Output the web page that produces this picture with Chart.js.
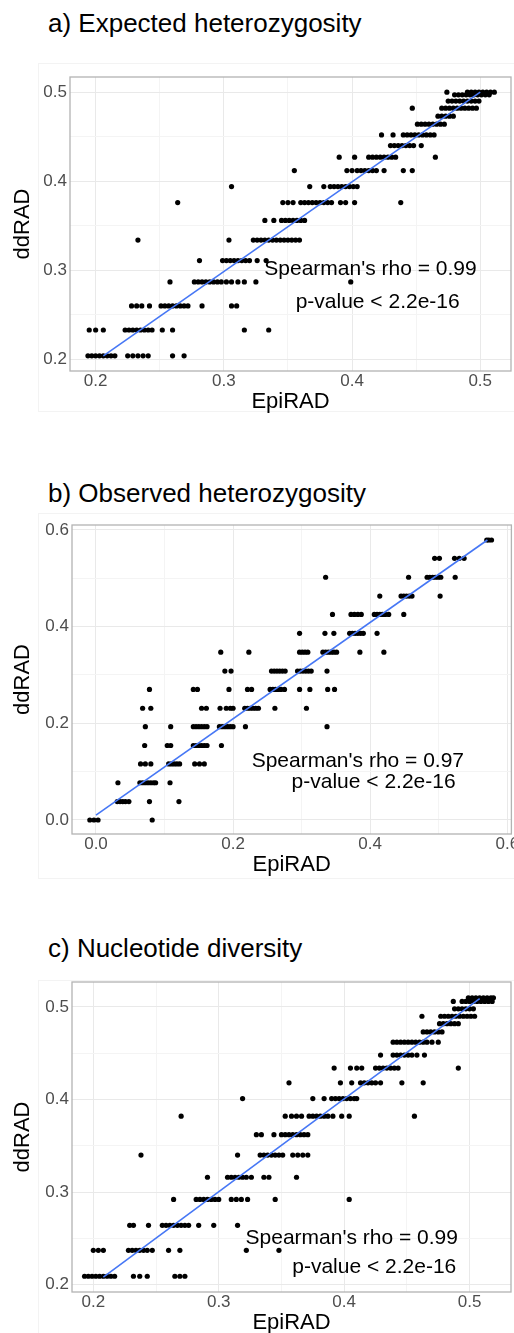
<!DOCTYPE html>
<html>
<head>
<meta charset="utf-8">
<script src="https://cdn.jsdelivr.net/npm/chart.js@4"></script>
<style>
  html, body { margin: 0; padding: 0; background: #fff; overflow: hidden; }
  body { width: 514px; height: 1333px; position: relative; font-family: "Liberation Sans", Arial, sans-serif; }
  .title { position: absolute; left: 48px; font-size: 26px; line-height: 26px; color: #000; white-space: nowrap; }
  .frame { position: absolute; left: 38px; width: 480px; border: 1px solid #f3f3f3; }
  canvas { position: absolute; left: 0; }
</style>
</head>
<body>
<div class="frame" style="top:63px;height:347px"></div>
<div class="frame" style="top:513px;height:364px"></div>
<div class="frame" style="top:980px;height:360px"></div>

<div class="title" style="top:10px">a) Expected heterozygosity</div>
<canvas id="heChart" width="514" height="348" style="top:67px"></canvas>

<div class="title" style="top:480px">b) Observed heterozygosity</div>
<canvas id="hoChart" width="514" height="363" style="top:515px"></canvas>

<div class="title" style="top:935px">c) Nucleotide diversity</div>
<canvas id="piChart" width="514" height="364" style="top:972px"></canvas>

<script>
// a) expected heterozygosity: ddRAD value of each row of points, and the EpiRAD values on that row
const heRows = [0.204, 0.233, 0.26, 0.287, 0.311, 0.334, 0.356, 0.376, 0.394, 0.412, 0.427, 0.44, 0.452, 0.464, 0.473, 0.482, 0.49, 0.497, 0.5];
const heEpi = [
    [0.194, 0.197, 0.2, 0.203, 0.206, 0.209, 0.212, 0.215, 0.225, 0.229, 0.233, 0.237, 0.241, 0.26, 0.269],
    [0.195, 0.2, 0.206, 0.223, 0.226, 0.229, 0.232, 0.235, 0.238, 0.241, 0.244, 0.252, 0.26, 0.316, 0.335],
    [0.228, 0.232, 0.236, 0.242, 0.251, 0.254, 0.257, 0.26, 0.263, 0.266, 0.269, 0.272, 0.283, 0.306, 0.31],
    [0.258, 0.277, 0.28, 0.283, 0.286, 0.289, 0.292, 0.295, 0.298, 0.302, 0.306, 0.311, 0.316, 0.325, 0.399],
    [0.281, 0.299, 0.302, 0.305, 0.308, 0.311, 0.314, 0.317, 0.32, 0.326, 0.333],
    [0.233, 0.304, 0.323, 0.326, 0.329, 0.332, 0.335, 0.338, 0.341, 0.344, 0.347, 0.35, 0.353, 0.356, 0.359],
    [0.332, 0.339, 0.345, 0.348, 0.351, 0.354, 0.357, 0.36, 0.363],
    [0.264, 0.346, 0.35, 0.354, 0.36, 0.363, 0.366, 0.369, 0.372, 0.375, 0.378, 0.381, 0.384, 0.391, 0.395, 0.402, 0.438],
    [0.306, 0.367, 0.378, 0.383, 0.386, 0.389, 0.392, 0.395, 0.398, 0.401, 0.404],
    [0.355, 0.396, 0.4, 0.404, 0.407, 0.41, 0.413, 0.416, 0.419, 0.425, 0.44, 0.447],
    [0.39, 0.402, 0.413, 0.416, 0.419, 0.422, 0.425, 0.428, 0.431, 0.434, 0.465],
    [0.43, 0.433, 0.436, 0.439, 0.442, 0.445, 0.448, 0.454],
    [0.423, 0.432, 0.44, 0.443, 0.446, 0.449, 0.452, 0.455, 0.458, 0.461, 0.464],
    [0.451, 0.454, 0.457, 0.46, 0.463, 0.466, 0.469, 0.472],
    [0.467, 0.47, 0.473, 0.476, 0.479],
    [0.447, 0.47, 0.473, 0.476, 0.479, 0.482, 0.485, 0.488, 0.491, 0.494, 0.497],
    [0.475, 0.478, 0.481, 0.484, 0.487, 0.49, 0.493, 0.496, 0.499],
    [0.48, 0.483, 0.486, 0.489, 0.492, 0.495, 0.498, 0.501, 0.504, 0.507],
    [0.474, 0.49, 0.493, 0.496, 0.499, 0.502, 0.505, 0.508, 0.511]
];
const heFitX = [0.206, 0.5];
const heFitY = [0.204, 0.5];
const heTicks = [0.2, 0.3, 0.4, 0.5];

// b) observed heterozygosity
const hoRows = [0.0, 0.038, 0.077, 0.116, 0.154, 0.193, 0.231, 0.27, 0.308, 0.347, 0.386, 0.425, 0.463, 0.502, 0.541, 0.579];
const hoEpi = [
    [-0.009, -0.003, 0.003, 0.082],
    [0.031, 0.035, 0.039, 0.043, 0.048, 0.078, 0.121],
    [0.032, 0.064, 0.068, 0.072, 0.076, 0.08, 0.084, 0.087, 0.108],
    [0.065, 0.072, 0.08, 0.106, 0.11, 0.114, 0.118, 0.122, 0.144, 0.151, 0.158],
    [0.071, 0.104, 0.109, 0.142, 0.146, 0.15, 0.154, 0.158, 0.162, 0.183],
    [0.072, 0.109, 0.142, 0.146, 0.15, 0.154, 0.158, 0.162, 0.18, 0.184, 0.188, 0.192, 0.196, 0.2, 0.218, 0.337],
    [0.068, 0.08, 0.154, 0.161, 0.181, 0.19, 0.196, 0.2, 0.217, 0.221, 0.225, 0.229, 0.233, 0.237, 0.261, 0.307],
    [0.078, 0.142, 0.148, 0.194, 0.221, 0.227, 0.254, 0.258, 0.262, 0.266, 0.27, 0.275, 0.297, 0.312, 0.338, 0.348],
    [0.188, 0.197, 0.256, 0.26, 0.264, 0.268, 0.272, 0.276, 0.294, 0.298, 0.302, 0.306, 0.31, 0.314, 0.337],
    [0.182, 0.223, 0.297, 0.301, 0.305, 0.309, 0.331, 0.335, 0.339, 0.343, 0.347, 0.351, 0.385, 0.42],
    [0.297, 0.334, 0.347, 0.37, 0.374, 0.378, 0.382, 0.386, 0.39, 0.41],
    [0.345, 0.372, 0.377, 0.382, 0.387, 0.406, 0.41, 0.414, 0.418, 0.422, 0.427, 0.449],
    [0.414, 0.445, 0.449, 0.453, 0.457, 0.461, 0.502],
    [0.335, 0.456, 0.483, 0.487, 0.491, 0.495, 0.499, 0.503, 0.524],
    [0.494, 0.501, 0.523, 0.53, 0.537],
    [0.57, 0.573, 0.577]
];
const hoFitX = [0.0, 0.571];
const hoFitY = [0.01, 0.579];
const hoTicks = [0.0, 0.2, 0.4, 0.6];

// c) nucleotide diversity
const piRows = [0.209, 0.237, 0.264, 0.292, 0.316, 0.34, 0.362, 0.382, 0.401, 0.418, 0.434, 0.448, 0.462, 0.473, 0.482, 0.49, 0.498, 0.506, 0.51];
const piEpi = [
    [0.193, 0.196, 0.199, 0.202, 0.205, 0.208, 0.211, 0.214, 0.217, 0.232, 0.237, 0.243, 0.265, 0.269, 0.273],
    [0.2, 0.204, 0.208, 0.228, 0.231, 0.234, 0.237, 0.24, 0.243, 0.247, 0.26, 0.269, 0.322, 0.348],
    [0.229, 0.232, 0.244, 0.255, 0.258, 0.261, 0.264, 0.267, 0.27, 0.273, 0.276, 0.284, 0.296, 0.315],
    [0.264, 0.282, 0.285, 0.288, 0.291, 0.294, 0.297, 0.3, 0.31, 0.314, 0.318, 0.323, 0.345, 0.404],
    [0.291, 0.307, 0.31, 0.313, 0.316, 0.319, 0.322, 0.326, 0.336, 0.34, 0.362],
    [0.238, 0.315, 0.333, 0.336, 0.339, 0.342, 0.345, 0.348, 0.351, 0.359, 0.363, 0.367, 0.371],
    [0.33, 0.334, 0.344, 0.35, 0.353, 0.356, 0.359, 0.362, 0.365, 0.368, 0.371],
    [0.27, 0.353, 0.358, 0.362, 0.366, 0.372, 0.375, 0.378, 0.381, 0.384, 0.387, 0.391, 0.398, 0.404, 0.456],
    [0.319, 0.375, 0.384, 0.39, 0.393, 0.396, 0.399, 0.402, 0.405, 0.408, 0.41],
    [0.356, 0.397, 0.406, 0.413, 0.416, 0.419, 0.422, 0.425, 0.429, 0.446, 0.463],
    [0.392, 0.405, 0.41, 0.414, 0.425, 0.428, 0.431, 0.434, 0.437, 0.44, 0.443, 0.491],
    [0.429, 0.439, 0.442, 0.445, 0.448, 0.451, 0.454, 0.458, 0.464],
    [0.439, 0.442, 0.445, 0.448, 0.451, 0.454, 0.457, 0.46, 0.463, 0.466, 0.47, 0.475],
    [0.463, 0.466, 0.469, 0.472, 0.475, 0.478],
    [0.476, 0.479, 0.482, 0.485, 0.488, 0.491],
    [0.462, 0.477, 0.48, 0.483, 0.486, 0.489, 0.492, 0.495, 0.498, 0.501, 0.504],
    [0.488, 0.491, 0.494, 0.497, 0.5, 0.503],
    [0.487, 0.494, 0.497, 0.5, 0.503, 0.506, 0.509, 0.512, 0.515, 0.518],
    [0.499, 0.502, 0.505, 0.508, 0.511, 0.514, 0.517, 0.519]
];
const piFitX = [0.208, 0.508];
const piFitY = [0.208, 0.509];
const piTicks = [0.2, 0.3, 0.4, 0.5];

const FONT = '"Liberation Sans", Arial, sans-serif';

function toPoints(rows, epi) {
    const pts = [];
    rows.forEach((dd, i) => epi[i].forEach(x => pts.push({ x: x, y: dd })));
    return pts;
}

// major ticks plus the minor grid lines halfway between them
function withMinor(ticks) {
    const out = [];
    ticks.forEach((t, i) => {
        out.push(t);
        if (i < ticks.length - 1) out.push((t + ticks[i + 1]) / 2);
    });
    return out;
}

function isMajor(ticks, v) {
    return ticks.some(t => Math.abs(t - v) < 1e-9);
}

function scaleOpts(range, ticks, title, isX, size) {
    return {
        type: "linear",
        min: range[0],
        max: range[1],
        afterBuildTicks: s => { s.ticks = withMinor(ticks).map(v => ({ value: v })); },
        afterFit: s => {
            if (isX) s.height = size; else s.width = size;
            s.paddingLeft = s.paddingRight = s.paddingTop = s.paddingBottom = 0;
        },
        grid: {
            drawTicks: false,
            color: c => (c.tick && isMajor(ticks, c.tick.value)) ? "#e9e9e9" : "#f4f4f4",
            lineWidth: 1
        },
        border: { display: false },
        ticks: {
            autoSkip: false,
            maxRotation: 0,
            padding: isX ? 2 : 3,
            color: "#4d4d4d",
            font: { family: FONT, size: 17, lineHeight: 1 },
            callback: v => isMajor(ticks, v) ? v.toFixed(1) : ""
        },
        title: {
            display: true,
            text: title,
            color: "#000",
            font: { family: FONT, size: 22, lineHeight: 1 },
            padding: isX ? { top: 0, bottom: 2 } : { top: 11.5, bottom: 0 }
        }
    };
}

const panelPlugin = {
    id: "panel",
    beforeDatasetsDraw(chart) {
        const a = chart.chartArea, ctx = chart.ctx;
        ctx.save();
        ctx.strokeStyle = "#b3b3b3";
        ctx.lineWidth = 1.3;
        ctx.strokeRect(a.left, a.top, a.right - a.left, a.bottom - a.top);
        ctx.restore();
    },
    afterDatasetsDraw(chart, args, opts) {
        const ctx = chart.ctx, sx = chart.scales.x, sy = chart.scales.y;
        ctx.save();
        ctx.fillStyle = "#000";
        ctx.font = "21px " + FONT;
        ctx.textAlign = "center";
        ctx.textBaseline = "middle";
        (opts.notes || []).forEach(n => {
            ctx.fillText(n.text, sx.getPixelForValue(n.x), sy.getPixelForValue(n.y));
        });
        ctx.restore();
    }
};

function makePanel(id, p) {
    const ctx = document.getElementById(id).getContext("2d");
    new Chart(ctx, {
        type: "scatter",
        data: {
            datasets: [
                {
                    data: p.fitX.map((x, i) => ({ x: x, y: p.fitY[i] })),
                    showLine: true,
                    borderColor: "#4677f5",
                    borderWidth: 1.6,
                    pointRadius: 0,
                    pointHoverRadius: 0
                },
                {
                    data: toPoints(p.rows, p.epi),
                    pointRadius: 2.6,
                    pointHoverRadius: 2.6,
                    pointBorderWidth: 0,
                    backgroundColor: "#000",
                    borderColor: "#000"
                }
            ]
        },
        options: {
            responsive: false,
            animation: false,
            events: [],
            layout: { padding: { left: 0, right: p.right, top: 10, bottom: 0 } },
            scales: {
                x: scaleOpts(p.xRange, p.ticks, "EpiRAD", true, 44),
                y: scaleOpts(p.yRange, p.ticks, "ddRAD", false, p.left)
            },
            plugins: {
                legend: { display: false },
                tooltip: { enabled: false },
                panel: { notes: p.notes }
            }
        },
        plugins: [panelPlugin]
    });
}

makePanel("heChart", {
    rows: heRows, epi: heEpi, fitX: heFitX, fitY: heFitY, ticks: heTicks,
    xRange: [0.18, 0.524], yRange: [0.187, 0.517], left: 70, right: 3,
    notes: [
        { text: "Spearman's rho = 0.99", x: 0.4144, y: 0.301 },
        { text: "p-value < 2.2e-16", x: 0.42, y: 0.264 }
    ]
});

makePanel("hoChart", {
    rows: hoRows, epi: hoEpi, fitX: hoFitX, fitY: hoFitY, ticks: hoTicks,
    xRange: [-0.035, 0.606], yRange: [-0.029, 0.61], left: 72, right: 2,
    notes: [
        { text: "Spearman's rho = 0.97", x: 0.382, y: 0.121 },
        { text: "p-value < 2.2e-16", x: 0.405, y: 0.079 }
    ]
});

makePanel("piChart", {
    rows: piRows, epi: piEpi, fitX: piFitX, fitY: piFitY, ticks: piTicks,
    xRange: [0.183, 0.533], yRange: [0.192, 0.527], left: 72, right: 3,
    notes: [
        { text: "Spearman's rho = 0.99", x: 0.406, y: 0.25 },
        { text: "p-value < 2.2e-16", x: 0.424, y: 0.219 }
    ]
});
</script>
</body>
</html>
